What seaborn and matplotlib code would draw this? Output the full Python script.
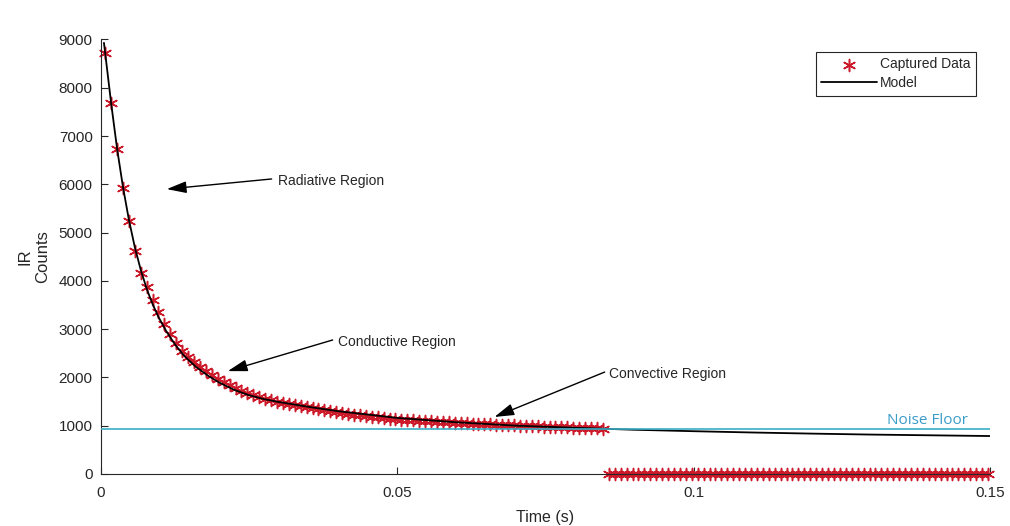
import numpy as np
import pandas as pd
import matplotlib
matplotlib.use("Agg")
import matplotlib.pyplot as plt
import seaborn as sns

# ---- data ----
T0 = 0.0007      # first sample time (s)
DT = 0.001       # sample period (s)
captured_nonzero = [
    8720, 7680, 6740, 5930, 5230, 4620, 4170, 3870, 3600, 3360,
    3110, 2900, 2710, 2540, 2420, 2310, 2220, 2130, 2050, 1975,
    1900, 1840, 1780, 1725, 1675, 1630, 1595, 1560, 1530, 1500,
    1470, 1445, 1420, 1400, 1385, 1365, 1345, 1325, 1305, 1285,
    1265, 1248, 1230, 1215, 1200, 1185, 1170, 1155, 1145, 1135,
    1125, 1118, 1110, 1103, 1096, 1089, 1082, 1075, 1068, 1062,
    1056, 1050, 1044, 1039, 1033, 1028, 1023, 1017, 1012, 1007,
    1002, 997, 992, 987, 982, 977, 972, 968, 963, 958,
    954, 950, 946, 942, 938,
]
captured_zero = [
    0, 0, 0, 0, 0, 0, 0, 0, 0, 0, 0, 0, 0,
    0, 0, 0, 0, 0, 0, 0, 0, 0, 0, 0, 0, 0,
    0, 0, 0, 0, 0, 0, 0, 0, 0, 0, 0, 0, 0,
    0, 0, 0, 0, 0, 0, 0, 0, 0, 0, 0, 0, 0,
    0, 0, 0, 0, 0, 0, 0, 0, 0, 0, 0, 0, 0,
]
model_t = [0.0005, 0.0017, 0.0027, 0.0037, 0.0047, 0.0057, 0.0067, 0.0077, 0.0087,
           0.0097, 0.011, 0.0125, 0.014, 0.016, 0.018, 0.02, 0.0225, 0.025, 0.0275,
           0.03, 0.035, 0.04, 0.045, 0.05, 0.06, 0.07, 0.08, 0.09, 0.1, 0.11, 0.12,
           0.13, 0.14, 0.15]
model_y = [8930, 7690, 6750, 5950, 5270, 4700, 4230, 3840, 3520,
           3250, 2960, 2680, 2450, 2220, 2040, 1890, 1740, 1630, 1550,
           1490, 1390, 1300, 1230, 1160, 1070, 1000, 955, 915, 885, 858, 835,
           815, 800, 785]
noise_floor = 930
x_ticks = [0, 0.05, 0.1, 0.15]
x_ticklabels = ["0", "0.05", "0.1", "0.15"]
y_ticks = [0, 1000, 2000, 3000, 4000, 5000, 6000, 7000, 8000, 9000]

captured = captured_nonzero + captured_zero
t_captured = T0 + DT * np.arange(len(captured))
df_cap = pd.DataFrame({"t": t_captured, "v": captured})
df_mod = pd.DataFrame({"t": model_t, "v": model_y})

# ---- figure ----
sns.set_theme(style="white")
plt.rcParams["font.family"] = ["Liberation Sans", "DejaVu Sans"]

fig = plt.figure(figsize=(10.1, 5.26), dpi=100)
ax = fig.add_axes([0.1, 0.099, 0.88, 0.826])

red = "#cc1a2a"
sns.scatterplot(data=df_cap, x="t", y="v", ax=ax, color=red,
                marker=(6, 2, 0), s=75, linewidth=1.1,
                label="Captured Data", zorder=2, clip_on=False)
sns.lineplot(data=df_mod, x="t", y="v", ax=ax, color="black", linewidth=1.3,
             label="Model", sort=False, zorder=3)
ax.axhline(noise_floor, color="#3aaec6", linewidth=1.2, zorder=4)

ax.set_xlim(0, 0.15)
ax.set_ylim(0, 9000)
ax.set_xticks(x_ticks)
ax.set_xticklabels(x_ticklabels)
ax.set_yticks(y_ticks)
ax.tick_params(direction="in", length=5, width=0.8, colors="#262626",
               labelsize=11, pad=6, bottom=True, left=True)
ax.tick_params(axis="x", pad=9)
for s in ["top", "right"]:
    ax.spines[s].set_visible(False)
for s in ["left", "bottom"]:
    ax.spines[s].set_color("#262626")
    ax.spines[s].set_linewidth(0.8)

ax.set_xlabel("Time (s)", fontsize=11.5, color="#262626", labelpad=7)
ax.set_ylabel("IR\nCounts", fontsize=12, color="#262626", labelpad=6)

leg = ax.legend(loc="upper right", bbox_to_anchor=(0.984, 0.972), fontsize=10,
                frameon=True, fancybox=False, framealpha=1, edgecolor="#262626",
                handlelength=4.0, borderpad=0.4, labelspacing=0.35, handletextpad=0.2,
                borderaxespad=0)
leg.get_frame().set_linewidth(0.8)

arrow_kw = dict(arrowstyle="-|>,head_length=1.0,head_width=0.3", color="black",
                lw=1.0, shrinkA=0, shrinkB=0)
ax.annotate("", xy=(0.0111, 5900), xytext=(0.0288, 6110), arrowprops=arrow_kw)
ax.text(0.0299, 6070, "Radiative Region", fontsize=10, va="center", ha="left")
ax.annotate("", xy=(0.0214, 2130), xytext=(0.0391, 2775), arrowprops=arrow_kw)
ax.text(0.0400, 2730, "Conductive Region", fontsize=10, va="center", ha="left")
ax.annotate("", xy=(0.0664, 1180), xytext=(0.0850, 2110), arrowprops=arrow_kw)
ax.text(0.0858, 2070, "Convective Region", fontsize=10, va="center", ha="left")

ax.text(0.1463, 1100, "Noise Floor", fontsize=11, color="#3a9cc8",
        ha="right", va="center", family=["Open Sans", "DejaVu Sans"])

fig.savefig("out.png", dpi=100, facecolor="white")
